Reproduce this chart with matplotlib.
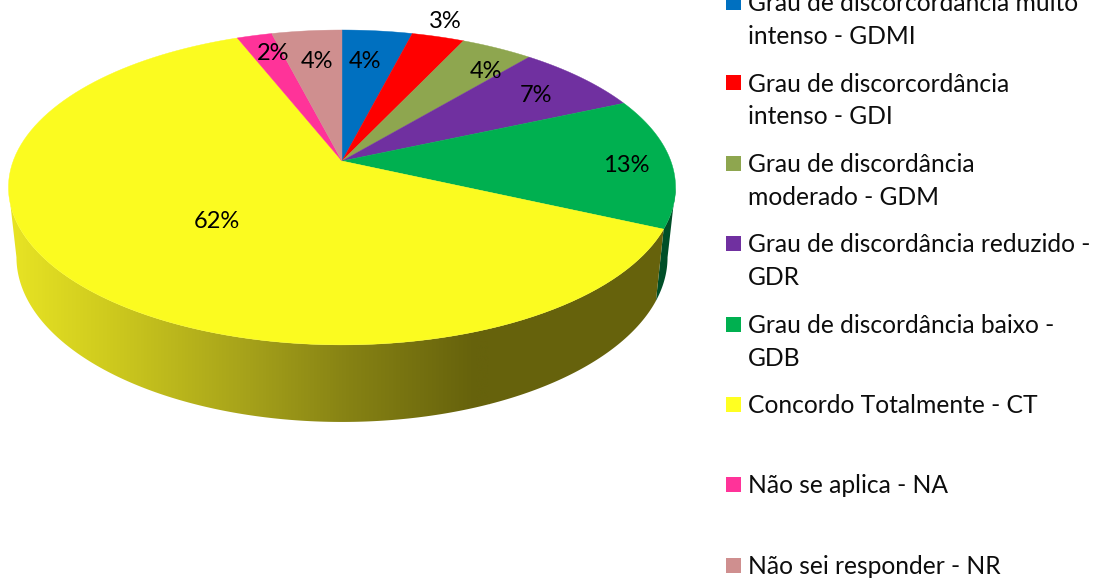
import numpy as np
import matplotlib
matplotlib.use("Agg")
import matplotlib.pyplot as plt
from matplotlib.colors import LinearSegmentedColormap
from matplotlib.patches import Polygon, Rectangle

plt.rcParams["font.family"] = ["Lato", "DejaVu Sans"]

values = [4.0, 3.0, 4.1, 7.3, 13.4, 62.2, 2.0, 4.0]
colors = ["#0070C0", "#FF0000", "#8EA64F", "#7030A0", "#00B050", "#FBFB20", "#FF3399", "#CF8F8F"]
legend_labels = [
    "Grau de discorcordância muito\nintenso - GDMI",
    "Grau de discorcordância\nintenso - GDI",
    "Grau de discordância\nmoderado - GDM",
    "Grau de discordância reduzido -\nGDR",
    "Grau de discordância baixo -\nGDB",
    "Concordo Totalmente - CT",
    "Não se aplica - NA",
    "Não sei responder - NR",
]
label_pos = [(365, 62), (445, 22), (486, 71), (536, 95), (626, 166), (217, 221), (273, 54), (317, 62)]
legend_y = [2, 82.5, 163, 243, 324, 404, 484, 565]

# perspective of the pie disc, pixels
APEX_X, APEX_Y = 342, 161
A, B, P = 328.8, 153.0, 0.168
DEPTH, SCALE_X, SCALE_Y = 68.6, 0.976, 1.046


def rim(theta, bottom=False):
    # theta in radians, clockwise from the top of the pie
    w = 1 + P * np.cos(theta)
    x = A * np.sin(theta) / w
    y = B * np.cos(theta) / w
    if bottom:
        return APEX_X + SCALE_X * x, APEX_Y + DEPTH - SCALE_Y * y
    return APEX_X + x, APEX_Y - y


def wall(start, end):
    t = np.linspace(start, end, 200)
    x1, y1 = rim(t)
    x2, y2 = rim(t, bottom=True)
    return np.r_[np.c_[x1, y1], np.c_[x2, y2][::-1]]


fig = plt.figure(figsize=(10.97, 5.80), dpi=100)
ax = fig.add_axes([0, 0, 1, 1])

edges = np.cumsum([0] + values) / sum(values) * 2 * np.pi

# sides, only green and yellow face the viewer
ax.add_patch(Polygon(wall(np.radians(99.7), edges[5]), fc="#004F28", ec="none"))

shade = LinearSegmentedColormap.from_list(
    "shade",
    [(0, "#E8E424"), (0.2, "#CFCB1E"), (0.5, "#A5A11A"), (0.7, "#878314"), (0.97, "#66620C"), (1, "#66620C")],
)
grad = ax.imshow(
    np.linspace(0, 1, 256)[None, :], cmap=shade, extent=(10, 490, 430, 180), aspect="auto", zorder=1
)
side = Polygon(wall(edges[5], np.radians(260.3)), fc="none", ec="none", transform=ax.transData)
ax.add_patch(side)
grad.set_clip_path(side)
# dark part of the side, right of the gradient
dark = Rectangle((489, 180), 200, 250, fc="#66620C", ec="none", zorder=1)
ax.add_patch(dark)
dark.set_clip_path(side)

# top of the pie
for i, color in enumerate(colors):
    t = np.linspace(edges[i], edges[i + 1], 120)
    x, y = rim(t)
    pts = np.r_[[[APEX_X, APEX_Y]], np.c_[x, y]]
    ax.add_patch(Polygon(pts, fc=color, ec=color, lw=0.3, zorder=2))

for v, (x, y) in zip(values, label_pos):
    ax.text(x, y, f"{round(v)}%", fontsize=17, ha="center", va="center", color="#000000", zorder=3)

for label, y, color in zip(legend_labels, legend_y, colors):
    ax.add_patch(Rectangle((726, y - 7.5), 15, 15, fc="#FFFF21" if color == "#FBFB20" else color, ec="none"))
    for j, line in enumerate(label.split("\n")):
        ax.text(748, y + 1.5 + 33 * j, line, fontsize=17.7, ha="left", va="center", color="#0D0D0D")

ax.set_xlim(0, 1097)
ax.set_ylim(580, 0)
ax.axis("off")
fig.savefig("out.png", dpi=100)
